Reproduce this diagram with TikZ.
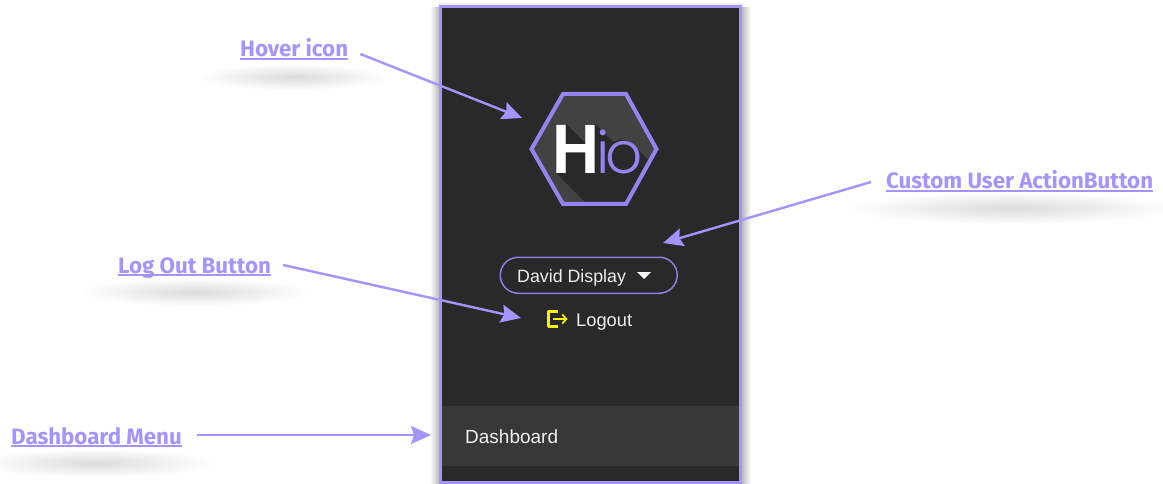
\documentclass[tikz,border=0pt]{standalone}
\usepackage{graphicx}
\usepackage{fontspec}
\setmainfont{Liberation Sans}
\newfontfamily\lblfont{Fira Sans}
\newfontfamily\logofont{Poppins Light}
\usetikzlibrary{arrows.meta,calc}
\definecolor{accent}{HTML}{A594FF}
\definecolor{btnline}{HTML}{8E7FE0}
\definecolor{panelbg}{HTML}{292929}
\definecolor{menubg}{HTML}{383838}
\definecolor{hexbg}{HTML}{424242}
\definecolor{logopurple}{HTML}{9484F0}
\definecolor{uitext}{HTML}{EEEEEE}
\definecolor{yellowicon}{HTML}{F5F500}
\newcommand\lblline[1]{\setbox0\hbox{#1}\rlap{\rule[-3pt]{\wd0}{1.8pt}}\box0}
\tikzset{
  calloutlabel/.style={anchor=base west,inner sep=0pt,text=accent,font=\lblfont\bfseries\fontsize{22.3}{26}\selectfont},
  callout/.style={draw=accent,line width=2.4pt,-{Stealth[length=20pt,width=18pt,inset=3pt]}},
  uitextnode/.style={anchor=base west,inner sep=0pt,text=uitext},
  softshadow/.style={inner color=black!14,outer color=white,shading=radial}
}
\begin{document}
\begin{tikzpicture}[x=1pt,y=-1pt]
\useasboundingbox (0,0) rectangle (1163,484);
% soft shadows under labels
\shade[softshadow] (293,77) ellipse [x radius=95,y radius=13];
\shade[softshadow] (195,292) ellipse [x radius=115,y radius=14];
\shade[softshadow] (1012,208) ellipse [x radius=165,y radius=16];
\shade[softshadow] (95,463) ellipse [x radius=120,y radius=14];
% panel shadow
\shade[left color=white,right color=black!30] (430,8) rectangle (440,484);
\shade[left color=black!30,right color=white] (741,8) rectangle (751,484);
\shade[top color=white,bottom color=black!12] (438,1) rectangle (743,6);
% panel
\fill[panelbg] (441,7) rectangle (740,484);
\fill[menubg] (442,406) rectangle (739,466);
\draw[accent,line width=3pt] (440.5,486) -- (440.5,6.5) -- (740.5,6.5) -- (740.5,482.5) -- (440.5,482.5);
% logo
\coordinate (hexL) at (531.5,149);
\coordinate (hexTL) at (563,94);
\coordinate (hexTR) at (626,94);
\coordinate (hexR) at (656.5,149);
\coordinate (hexBR) at (626,204);
\coordinate (hexBL) at (563,204);
\fill[hexbg] (hexL)--(hexTL)--(hexTR)--(hexR)--(hexBR)--(hexBL)--cycle;
\begin{scope}
\clip (hexL)--(hexTL)--(hexTR)--(hexR)--(hexBR)--(hexBL)--cycle;
\fill[panelbg] (566,124)--(586,144)--(586,124)--(595,124)--(695,224)--(657,274)--(557,174)--cycle;
\fill[panelbg] (633.5,145)--(700,211.5)--(600,211)--(610,169)--cycle;
\fill[panelbg] (621.5,157) circle [radius=17];
\end{scope}
\draw[logopurple,line width=4pt,line join=miter] (hexL)--(hexTL)--(hexTR)--(hexR)--(hexBR)--(hexBL)--cycle;
\node[anchor=base west,inner sep=0pt] (logo) at (552.2,174) {\textcolor{white}{\bfseries\fontsize{70}{70}\selectfont\scalebox{.93}[1]{H}}\textcolor{logopurple}{\logofont\fontsize{58}{58}\selectfont\kern-3pt i\kern-4pt o}};
% user button
\node[draw=btnline,line width=1.5pt,rounded corners=18pt,minimum width=177pt,minimum height=36pt,inner sep=0pt,anchor=north west] (userbtn) at (499.5,256.5) {};
\node[uitextnode,font=\fontsize{17.8}{22}\selectfont] (username) at (517,282) {David Display};
\fill[white] (637,272) -- (651,272) -- (644,279) -- cycle;
% logout
\draw[yellowicon,line width=2.2pt,line join=round] (558,311.5) -- (548.5,311.5) -- (548.5,326.5) -- (558,326.5);
\draw[yellowicon,line width=1.8pt,-{Straight Barb[length=4pt,width=9pt]}] (553,319) -- (567.5,319);
\node[uitextnode,font=\fontsize{18.3}{22}\selectfont] (logout) at (576,326) {Logout};
\node[uitextnode,font=\fontsize{19}{22}\selectfont] (dash) at (465,443) {Dashboard};
% labels
\node[calloutlabel] (lblHover) at (240,57) {\lblline{Hover icon}};
\node[calloutlabel] (lblCustom) at (886,189) {\lblline{Custom User ActionButton}};
\node[calloutlabel] (lblLog) at (118,273) {\lblline{Log Out Button}};
\node[calloutlabel] (lblDash) at (11,444) {\lblline{Dashboard Menu}};
% tips
\coordinate (tipHover) at (522,118);
\coordinate (tipCustom) at (663,243);
\coordinate (tipLog) at (521,318);
\coordinate (tipDash) at (431,435);
\draw[callout] ([shift={(12,-3)}]lblHover.base east) -- (tipHover);
\draw[callout] ([shift={(-15,-7)}]lblCustom.base west) -- (tipCustom);
\draw[callout] ([shift={(12,-8)}]lblLog.base east) -- (tipLog);
\draw[callout] ([shift={(15,-9)}]lblDash.base east) -- (tipDash);
\end{tikzpicture}
\end{document}
